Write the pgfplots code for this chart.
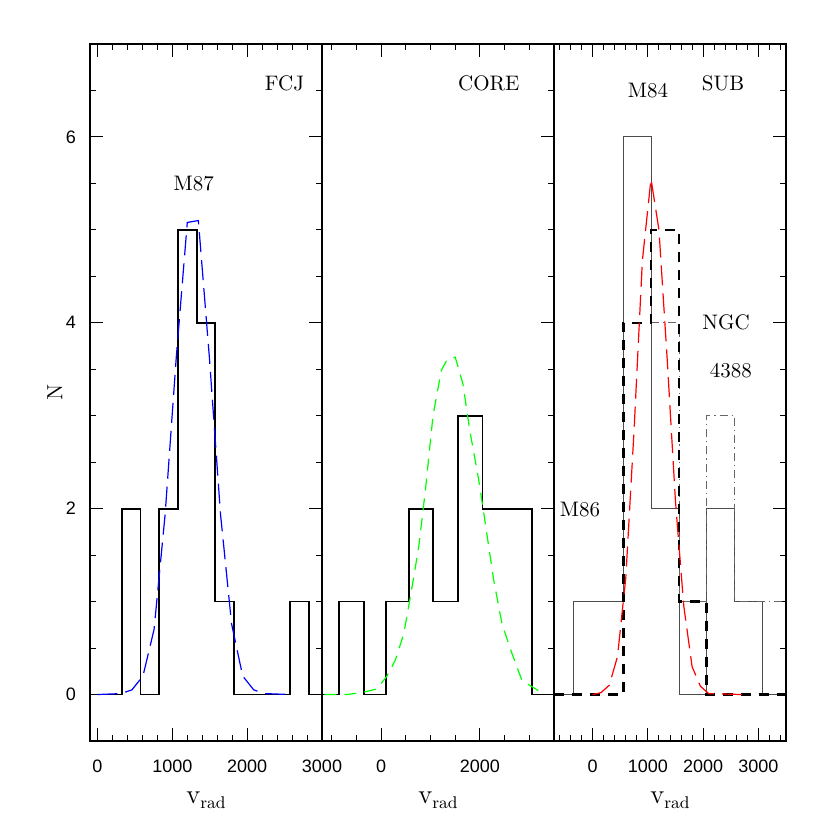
\documentclass[border=0pt]{standalone}
\usepackage{fontspec}
\usepackage{pgfplots}
\pgfplotsset{compat=1.18}
\newfontfamily\helv{Liberation Sans}
\definecolor{pblue}{RGB}{0,0,255}
\definecolor{pgreen}{RGB}{0,255,0}
\definecolor{pred}{RGB}{255,0,0}
\tikzset{lab/.style={font=\fontsize{10.5}{12}\selectfont}}
\begin{document}
\begin{tikzpicture}
\useasboundingbox (-45pt,-44.5pt) rectangle (370pt,370.5pt);
\pgfplotsset{
 panel/.style={
  scale only axis, width=116pt, height=348.5pt,
  ymin=-0.5, ymax=7,
  ytick={0,2,4,6}, minor ytick={0.5,1,1.5,2.5,3,3.5,4.5,5,5.5,6.5},
  major tick length=6.3pt, minor tick length=3.2pt,
  tick style={black, line width=0.5pt},
  axis line style={line width=0.6pt},
  ticklabel style={font=\helv\fontsize{9}{10}\selectfont},
  /pgf/number format/assume math mode=true,
  /pgf/number format/1000 sep={},
  xticklabel style={yshift=-6pt},
  yticklabel style={xshift=-3.5pt},
  xlabel={v\raisebox{-0.45ex}{\fontsize{8.5}{10}\selectfont rad}},
  xlabel style={font=\fontsize{13.5}{15}\selectfont, at={(axis description cs:0.5,0)}, yshift=-31pt, anchor=base},
 },
}
% ---------------- FCJ ----------------
\begin{axis}[panel, name=p1, xmin=-100, xmax=3000,
  xtick={0,1000,2000,3000},
  minor xtick={200,400,600,800,1200,1400,1600,1800,2200,2400,2600,2800},
  ylabel={N},
  ylabel style={font=\fontsize{11}{13}\selectfont, at={(axis description cs:-0.152,0.5)}, anchor=center}]
\addplot[const plot, black, line width=0.9pt] coordinates {
 (-100,0) (325,2) (575,0) (825,2) (1075,5) (1325,4) (1575,1) (1825,0) (2575,1) (2825,0) (3000,0)};
\addplot[pblue, line width=0.6pt, dash pattern=on 10pt off 4pt] coordinates {
 (0,0) (312,0.01) (460,0.05) (608,0.2) (756,0.7) (904,1.94) (1052,3.62) (1200,5.08) (1348,5.1)
 (1496,3.62) (1644,1.94) (1792,0.76) (1940,0.2) (2088,0.05) (2236,0.01) (2580,0)};
\node[lab] at (axis cs:2499,6.58) {FCJ};
\node[lab] at (axis cs:1287,5.50) {M87};
\end{axis}
% ---------------- CORE ----------------
\begin{axis}[panel, name=p2, at={(116pt,0)}, xmin=-1200, xmax=3500,
  xtick={0,2000},
  minor xtick={-1000,-500,500,1000,1500,2500,3000},
  ytick pos=right, yticklabels={}]
\addplot[const plot, black, line width=0.9pt] coordinates {
 (-1200,0) (-850,1) (-345,0) (100,1) (555,2) (1050,1) (1555,3) (2050,2) (3055,0) (3500,0)};
\addplot[pgreen, line width=0.6pt, dash pattern=on 6pt off 4pt] coordinates {
 (-1150,0) (-700,0) (-400,0.02) (-86,0.06) (117,0.2) (285,0.37) (455,0.65) (590,1.05) (760,1.59)
 (895,2.2) (1049,3.0) (1218,3.49) (1330,3.6) (1500,3.63) (1656,3.34) (1791,2.85) (1975,2.31)
 (2109,1.84) (2279,1.23) (2447,0.76) (2650,0.44) (2852,0.15) (3190,0.04)};
\node[lab] at (axis cs:2179,6.58) {CORE};
\end{axis}
% ---------------- SUB ----------------
\begin{axis}[panel, name=p3, at={(232pt,0)}, xmin=-700, xmax=3500,
  xtick={0,1000,2000,3000},
  minor xtick={-600,-400,-200,200,400,600,800,1200,1400,1600,1800,2200,2400,2600,2800,3200,3400},
  ytick pos=right, yticklabels={}]
\addplot[const plot, black!70, line width=0.5pt] coordinates {
 (-700,0) (-340,1) (555,6) (1056,2) (1563,0) (2064,2) (2564,1) (3071,0) (3500,0)};
\addplot[const plot, black!60, line width=0.4pt, dash pattern=on 4pt off 2pt on 0.6pt off 2pt] coordinates {
 (1056,4) (1563,1) (2064,3) (2564,1) (3500,1)};
\addplot[const plot, black, line width=1.2pt, dash pattern=on 5pt off 4pt] coordinates {
 (-700,0) (555,4) (1056,5) (1563,1) (2064,0) (3500,0)};
\addplot[pred, line width=0.6pt, dash pattern=on 10pt off 4pt] coordinates {
 (0,0) (150,0.02) (300,0.1) (450,0.41) (600,1.26) (750,2.85) (900,4.67) (1056,5.55)
 (1200,5.0) (1350,3.6) (1500,2.07) (1650,0.95) (1800,0.3) (1950,0.09) (2100,0.01) (2700,0)};
\node[lab] at (axis cs:1002,6.50) {M84};
\node[lab] at (axis cs:2359,6.58) {SUB};
\node[lab] at (axis cs:2414,4.00) {NGC};
\node[lab] at (axis cs:2504,3.49) {4388};
\node[lab] at (axis cs:-229,1.99) {M86};
\end{axis}
\end{tikzpicture}
\end{document}
